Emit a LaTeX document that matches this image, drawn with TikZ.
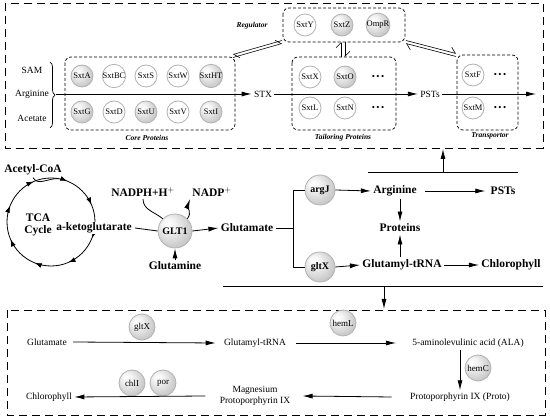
\documentclass[tikz,border=0pt]{standalone}
\usepackage{fontspec}
\setmainfont{Liberation Serif}
\usetikzlibrary{arrows.meta,calc,decorations.pathreplacing,decorations.markings}
\pgfdeclareradialshading{lightball}{\pgfpoint{-12bp}{12bp}}{%
  color(0bp)=(white); color(10bp)=(white!90!gray); color(30bp)=(gray!45);
  color(45bp)=(gray!70); color(50bp)=(gray!75)}

\begin{document}
\begin{tikzpicture}[x=1pt,y=-1pt,line width=0.8pt,
  gball/.style={circle,draw=gray!60,shading=lightball,inner sep=0pt,minimum size=22pt,font=\fontsize{8.5}{8.5}\selectfont},
  wball/.style={circle,draw=gray!60,fill=white,inner sep=0pt,minimum size=22pt,font=\fontsize{8.5}{8.5}\selectfont},
  mball/.style={circle,draw=gray!60,shading=lightball,inner sep=0pt,minimum size=30pt,font=\fontsize{10}{10}\selectfont\bfseries},
  bball/.style={circle,draw=gray!60,shading=lightball,inner sep=0pt,minimum size=26pt,font=\fontsize{9}{9}\selectfont},
  toptxt/.style={font=\fontsize{9.5}{9.5}\selectfont,inner sep=2pt},
  midtxt/.style={font=\fontsize{11.5}{12}\selectfont\bfseries,inner sep=2pt},
  bottxt/.style={font=\fontsize{9.5}{10.5}\selectfont,inner sep=2pt,align=center},
  grptxt/.style={font=\fontsize{7.5}{8}\selectfont\bfseries\itshape},
  grpbox/.style={densely dashed,line width=0.7pt,rounded corners=6pt},
  outbox/.style={dash pattern=on 8pt off 5pt,line width=0.9pt},
  arr/.style={-{Latex[length=10pt,width=5pt]}},
  harp/.style={line width=0.6pt,-{Straight Barb[harpoon,length=5pt]}},
  dots/.style={font=\fontsize{9}{9}\selectfont,inner sep=0pt}]
\useasboundingbox (0,0) rectangle (550,419);

% ---- top panel: saxitoxin cluster
\draw[outbox] (5,3) rectangle (543,148);
\draw[grpbox] (65,57) rectangle (235,130);
\draw[grpbox] (292,57) rectangle (396,130);
\draw[grpbox] (283,8) rectangle (405,42);
\draw[grpbox] (457,55) rectangle (518,130);

\node[toptxt] (sam) at (32,70) {SAM};
\node[toptxt] (argtop) at (32,94) {Arginine};
\node[toptxt] (acet) at (32,118) {Acetate};
\draw[line width=0.7pt,decorate,decoration={brace,amplitude=5pt}] (50,62) -- (50,128);
\coordinate (brtip) at (56,94);

\node[gball] (sxtA) at (82,76) {SxtA};
\node[wball] (sxtBC) at (114,76) {SxtBC};
\node[wball] (sxtS) at (146,76) {SxtS};
\node[wball] (sxtW) at (178,76) {SxtW};
\node[gball] (sxtHT) at (211,76) {SxtHT};
\node[gball] (sxtG) at (82,112) {SxtG};
\node[wball] (sxtD) at (114,112) {SxtD};
\node[gball] (sxtU) at (146,112) {SxtU};
\node[wball] (sxtV) at (178,112) {SxtV};
\node[gball] (sxtI) at (211,112) {SxtI};

\node[wball] (sxtY) at (305,25) {SxtY};
\node[gball] (sxtZ) at (342,25) {SxtZ};
\node[gball] (ompR) at (378,25) {OmpR};

\node[wball] (sxtX) at (310,77) {SxtX};
\node[gball] (sxtO) at (345,77) {SxtO};
\node[dots] (dotsO) at (378,77) {\textbullet\,\textbullet\,\textbullet};
\node[wball] (sxtL) at (310,108) {SxtL};
\node[wball] (sxtN) at (345,108) {SxtN};
\node[dots] (dotsN) at (378,108) {\textbullet\,\textbullet\,\textbullet};

\node[wball] (sxtF) at (473,75) {SxtF};
\node[dots] (dotsF) at (500,75) {\textbullet\,\textbullet\,\textbullet};
\node[wball] (sxtM) at (473,108) {SxtM};
\node[dots] (dotsM) at (500,108) {\textbullet\,\textbullet\,\textbullet};

\node[grptxt] (regl) at (252,26) {Regulator};
\node[grptxt] (corel) at (147,138) {Core Proteins};
\node[grptxt] (taill) at (343,138) {Tailoring Proteins};
\node[grptxt] (transl) at (490,136) {Transportor};

\node[toptxt] (stx) at (263,94) {STX};
\node[toptxt] (psts) at (430,94) {PSTs};
\coordinate (topend) at (536,94);
\draw[arr] (brtip) -- (stx.west);
\draw[arr] (stx.east) -- (psts.west);
\draw[arr] (psts.east) -- (topend);

% regulator links
\coordinate (cr1) at (233,56);
\coordinate (rg1) at (282,42);
\coordinate (rg2) at (406,42);
\coordinate (tr1) at (456,55);
\draw[harp] ([yshift=1.5]rg1) -- ([yshift=1.5]cr1);
\draw[harp] ([yshift=-1.5]cr1) -- ([yshift=-1.5]rg1);
\draw[harp] ([yshift=-1.5]tr1) -- ([yshift=-1.5]rg2);
\draw[harp] ([yshift=1.5]rg2) -- ([yshift=1.5]tr1);
\coordinate (rgb) at (343,42);
\coordinate (tlt) at (343,57);
\draw[harp] ([xshift=-2]tlt) -- ([xshift=-2]rgb);
\draw[harp] ([xshift=2]rgb) -- ([xshift=2]tlt);

% ---- middle panel: nitrogen metabolism
\coordinate (tca) at (51,222);
\draw[postaction={decorate},decoration={markings,
  mark=between positions 0.06 and 1 step 0.125 with {\arrow{Latex[length=7pt,width=5pt]}}}]
  (tca) circle [radius=44];
\node[midtxt,align=center] (tcal) at (38,225) {TCA\\Cycle};
\node[midtxt] (acoa) at (33,170) {Acetyl-CoA};
\coordinate (tcain) at ($(tca)+(-80:44)$);
\draw (acoa.south) to[out=-60,in=175] (tcain);

\node[midtxt,fill=white,inner sep=1pt] (akg) at (94,228) {a-ketoglutarate};
\node[mball,minimum size=34pt] (glt) at (175,231) {GLT1};
\node[midtxt] (nadph) at (143,192) {NADPH+H$^{\mathbf{+}}$};
\node[midtxt] (nadp) at (212,192) {NADP$^{\mathbf{+}}$};
\node[midtxt] (gln) at (175,266) {Glutamine};
\node[midtxt] (glu) at (247,228) {Glutamate};
\draw ([xshift=2]akg.east) -- (glt.west);
\draw[arr] (glt.east) -- (glu.west);
\draw[arr] (gln.north) -- (glt.south);
\draw (nadph.south) to[out=-90,in=140] (glt.135);
\draw[arr] (glt.45) to[out=50,in=-110] (nadp.south west);

\coordinate (jmid) at (293,228);
\coordinate (jtop) at (293,190);
\coordinate (jbot) at (293,267);
\node[mball] (argj) at (320,190) {argJ};
\node[mball] (gltx) at (320,267) {gltX};
\draw (glu.east) -- (jmid);
\draw (argj.west) -- (jtop) -- (jbot) -- (gltx.west);

\node[midtxt] (arg) at (395,191) {Arginine};
\node[midtxt] (psts2) at (503,191) {PSTs};
\node[midtxt] (prot) at (400,228) {Proteins};
\node[midtxt] (gtrna) at (402,265) {Glutamyl-tRNA};
\node[midtxt] (chl) at (511,265) {Chlorophyll};
\draw[arr] (argj.east) -- (arg.west);
\draw[arr] ([xshift=6]arg.east) -- ([xshift=-3]psts2.west);
\draw[arr] (arg.south -| prot.north) -- (prot.north);
\draw[arr] (gltx.east) -- (gtrna.west);
\draw[arr] (gtrna.north -| prot.south) -- (prot.south);
\draw[arr] (gtrna.east) -- (chl.west);

\coordinate (hl1) at (368,172);
\coordinate (hl2) at (518,172);
\coordinate (hlm) at (443,172);
\coordinate (topbot) at (443,149);
\draw (hl1) -- (hl2);
\draw[arr] (hlm) -- (topbot);

\coordinate (bl1) at (223,286);
\coordinate (bl2) at (543,286);
\coordinate (blm) at (384,286);
\coordinate (botop) at (384,309);
\draw (bl1) -- (bl2);
\draw[arr] (blm) -- (botop);

% ---- bottom panel: chlorophyll synthesis
\draw[outbox] (7,310) rectangle (545,415);
\node[bottxt] (bglu) at (47,342) {Glutamate};
\node[bottxt] (bgtrna) at (255,343) {Glutamyl-tRNA};
\node[bottxt] (bala) at (468,343) {5-aminolevulinic acid (ALA)};
\node[bottxt] (bproto) at (460,397) {Protoporphyrin IX (Proto)};
\node[bottxt] (bmg) at (255,396) {Magnesium\\Protoporphyrin IX};
\node[bottxt] (bchl) at (49,397) {Chlorophyll};
\node[bball] (bgltx) at (142,327) {gltX};
\node[bball] (hemL) at (343,323) {hemL};
\node[bball] (hemC) at (478,368) {hemC};
\node[bball] (chlI) at (132,383) {chlI};
\node[bball] (por) at (163,383) {por};
\draw[arr] ([xshift=4]bglu.east) -- ([xshift=-6]bgtrna.west);
\draw[arr] ([xshift=8]bgtrna.east) -- ([xshift=-14]bala.west);
\draw[arr] (bala.south -| bproto.north) -- (bproto.north);
\draw[arr] ([xshift=-16]bproto.west) -- ([xshift=10]bmg.east);
\draw[arr] ([xshift=-12]bmg.west) -- (bchl.east);
\end{tikzpicture}
\end{document}
